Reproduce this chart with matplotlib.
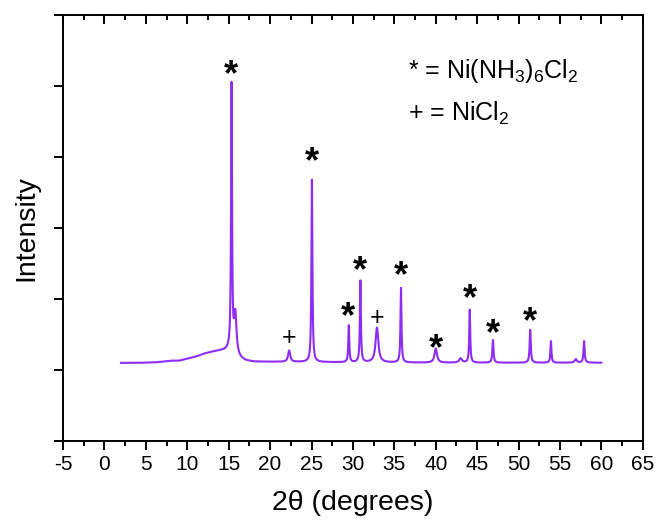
import numpy as np
import matplotlib.pyplot as plt
from matplotlib.ticker import MultipleLocator

plt.rcParams['font.family'] = ['Liberation Sans', 'DejaVu Sans']
plt.rcParams['mathtext.fontset'] = 'custom'
plt.rcParams['mathtext.rm'] = 'Liberation Sans'
plt.rcParams['mathtext.default'] = 'regular'
plt.rcParams['axes.unicode_minus'] = False

# background (2theta, intensity)
bg_x = [2, 4, 6, 7, 8, 9, 10, 11, 12, 13, 14, 15, 16, 17, 18, 24, 30, 40, 50, 60]
bg_y = [49, 49, 52, 57, 64, 64, 78, 92, 113, 127, 134, 134, 85, 64, 57, 55, 52, 50, 50, 50]

# peaks: position, height above background, width (FWHM, degrees)
peak_pos = [15.35, 15.8, 22.3, 25.05, 29.5, 30.9, 32.9, 35.8, 40.0, 43.0,
            44.1, 46.9, 51.4, 53.9, 56.9, 57.9]
peak_h = [1875, 290, 80, 1285, 260, 575, 245, 525, 100, 30,
          372, 160, 232, 152, 25, 152]
peak_w = [0.14, 0.35, 0.3, 0.14, 0.14, 0.14, 0.4, 0.14, 0.35, 0.4,
          0.14, 0.16, 0.16, 0.14, 0.3, 0.16]

# phase markers
star_x = [15.3, 25.0, 29.4, 30.9, 35.8, 40.0, 44.1, 46.9, 51.4]
star_y = [2072, 1457, 370, 695, 660, 144, 497, 250, 335]
plus_x = [22.3, 32.9]
plus_y = [225, 367]

x = np.arange(2.0, 60.0, 0.01)
y = np.interp(x, bg_x, bg_y)
for p, h, w in zip(peak_pos, peak_h, peak_w):
    g = (w / 2) ** 2
    y = y + h * g / ((x - p) ** 2 + g)

fig = plt.figure(figsize=(6.56, 5.21), dpi=100)
ax = fig.add_axes([0.096, 0.154, 0.884, 0.817])
ax.plot(x, y, color='#8E2DF5', lw=1.5)

ax.set_xlim(-5, 65)
ax.set_ylim(-500, 2500)
ax.xaxis.set_major_locator(MultipleLocator(5))
ax.xaxis.set_minor_locator(MultipleLocator(2.5))
ax.yaxis.set_major_locator(MultipleLocator(1000))
ax.yaxis.set_minor_locator(MultipleLocator(500))
ax.set_yticklabels([])
for s in ax.spines.values():
    s.set_linewidth(1.4)
ax.tick_params(axis='x', which='both', direction='out', top=True, width=1.4, labelsize=15)
ax.tick_params(axis='x', which='major', length=6.5)
ax.tick_params(axis='x', which='minor', length=3.5)
ax.tick_params(axis='y', which='both', direction='out', width=1.4, length=6.5)
# top ticks point into the plot
for t in ax.xaxis.get_major_ticks() + ax.xaxis.get_minor_ticks():
    t.tick2line.set_marker(3)

ax.set_xlabel('2θ (degrees)', fontsize=20.5, labelpad=12)
ax.set_ylabel('Intensity', fontsize=20.5, labelpad=7)

for sx, sy in zip(star_x, star_y):
    ax.text(sx, sy, '*', fontsize=26, fontweight='bold', ha='center', va='center')
for px, py in zip(plus_x, plus_y):
    ax.text(px, py, '+', fontsize=18, ha='center', va='center')

ax.text(0.595, 0.868, '* = Ni(NH$_3$)$_6$Cl$_2$', transform=ax.transAxes, fontsize=18, va='center')
ax.text(0.595, 0.77, '+ = NiCl$_2$', transform=ax.transAxes, fontsize=18, va='center')

fig.savefig('out.png', dpi=100)
